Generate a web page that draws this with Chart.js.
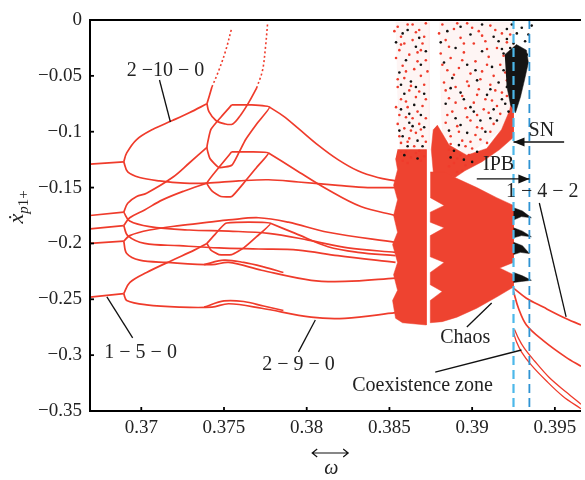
<!DOCTYPE html>
<html>
<head>
<meta charset="utf-8">
<script src="https://cdn.jsdelivr.net/npm/chart.js@4.4.1/dist/chart.umd.min.js"></script>
<style>
  html, body { margin: 0; padding: 0; background: #fff; }
  #chart { display: block; }
</style>
</head>
<body>
<canvas id="chart" width="585" height="480"></canvas>
<script>
// --- axes ---
const xTicks = [0.37, 0.375, 0.38, 0.385, 0.39, 0.395];
const yTicks = [0, -0.05, -0.1, -0.15, -0.2, -0.25, -0.3, -0.35];
const xRange = [0.3669, 0.39658];
const yRange = [-0.35, 0];

// SN / IPB boundaries (dashed blue)
const snOmega = 0.3925;
const ipbOmega = 0.39346;

// period 1-5-0 (before the first doubling)
const branches150 = [
  [[0.3669, -0.129], [0.36894, -0.127]],
  [[0.3669, -0.175], [0.36894, -0.172]],
  [[0.3669, -0.187], [0.36894, -0.184]],
  [[0.3669, -0.200], [0.36894, -0.198]],
  [[0.3669, -0.248], [0.36894, -0.245]]
];

// period 2-10-0 / 2-9-0 branches
const branches2100 = [
  [[0.36894, -0.127], [0.36912, -0.119], [0.36972, -0.107], [0.37068, -0.098], [0.37188, -0.090], [0.3729, -0.083], [0.37397, -0.075]],
  [[0.36894, -0.127], [0.36918, -0.136], [0.3699, -0.141], [0.3711, -0.144], [0.3726, -0.146], [0.37397, -0.146], [0.37589, -0.144], [0.37769, -0.143], [0.37949, -0.145], [0.38189, -0.148], [0.38369, -0.150], [0.38537, -0.150]],
  [[0.37397, -0.075], [0.37427, -0.060]],
  [[0.37397, -0.075], [0.37409, -0.082], [0.37451, -0.090], [0.37505, -0.093], [0.37553, -0.093], [0.37601, -0.085], [0.37649, -0.074], [0.37697, -0.061]],
  [[0.37775, -0.078], [0.37859, -0.086], [0.37949, -0.097], [0.38069, -0.112], [0.38189, -0.125], [0.38309, -0.135], [0.38429, -0.141], [0.38537, -0.144]],
  [[0.36894, -0.172], [0.36918, -0.164], [0.36972, -0.158], [0.37032, -0.155], [0.37188, -0.141], [0.3729, -0.128], [0.37397, -0.114]],
  [[0.36894, -0.172], [0.3693, -0.180], [0.3705, -0.185], [0.3729, -0.188], [0.37529, -0.189], [0.37769, -0.191], [0.38009, -0.197], [0.38249, -0.204], [0.38537, -0.208]],
  [[0.36894, -0.184], [0.3693, -0.177], [0.3702, -0.170], [0.37128, -0.161], [0.3726, -0.153], [0.37397, -0.146]],
  [[0.37769, -0.119], [0.37931, -0.134], [0.38129, -0.152], [0.38327, -0.167], [0.38537, -0.175]],
  [[0.36894, -0.184], [0.36918, -0.193], [0.3702, -0.200], [0.3723, -0.202], [0.37469, -0.204], [0.37709, -0.205], [0.37949, -0.206], [0.38189, -0.211], [0.38537, -0.217]],
  [[0.36894, -0.198], [0.3693, -0.193], [0.3705, -0.188], [0.3723, -0.184], [0.37409, -0.181], [0.37529, -0.179], [0.37709, -0.177], [0.37889, -0.181], [0.38129, -0.190], [0.38537, -0.199]],
  [[0.36894, -0.198], [0.36912, -0.209], [0.3699, -0.215], [0.37152, -0.217], [0.37427, -0.219], [0.37529, -0.217], [0.37727, -0.224], [0.38027, -0.233], [0.38231, -0.234], [0.38537, -0.231]],
  [[0.36894, -0.245], [0.3693, -0.235], [0.37032, -0.226], [0.37188, -0.215], [0.3732, -0.206], [0.37397, -0.200]],
  [[0.37781, -0.182], [0.37931, -0.191], [0.38129, -0.203], [0.38309, -0.208], [0.38537, -0.211]],
  [[0.36894, -0.245], [0.36912, -0.251], [0.37032, -0.255], [0.3723, -0.257], [0.37427, -0.257], [0.37529, -0.254], [0.37727, -0.258], [0.38027, -0.266], [0.38231, -0.267], [0.38537, -0.262]],
  [[0.3738, -0.219], [0.375, -0.215], [0.37619, -0.217], [0.37739, -0.221], [0.37859, -0.226]],
  [[0.3738, -0.257], [0.375, -0.2515], [0.37619, -0.252], [0.37739, -0.256], [0.37859, -0.260]]
];

// closed loops of the 2-10-0 orbit
const loops2100 = [
  [[0.37547, -0.076], [0.37661, -0.076], [0.37775, -0.078], [0.37703, -0.092], [0.37631, -0.107], [0.37589, -0.119], [0.37547, -0.130], [0.37469, -0.132], [0.37415, -0.124], [0.37397, -0.114], [0.37421, -0.098], [0.37481, -0.087], [0.37547, -0.076]],
  [[0.37547, -0.118], [0.37661, -0.118], [0.37769, -0.119], [0.37697, -0.132], [0.37619, -0.146], [0.37547, -0.158], [0.37481, -0.158], [0.37427, -0.153], [0.37397, -0.146], [0.37469, -0.132], [0.37547, -0.118]],
  [[0.37397, -0.200], [0.37451, -0.191], [0.37511, -0.182], [0.37649, -0.181], [0.37781, -0.182], [0.37697, -0.194], [0.37619, -0.204], [0.37547, -0.210], [0.37469, -0.210], [0.37421, -0.206], [0.37397, -0.200]]
];

// sparse branches leaving through the top
const escapeArms = [
  [[0.37427, -0.060], [0.37469, -0.045], [0.37511, -0.027], [0.37547, -0.007]],
  [[0.37697, -0.061], [0.37733, -0.045], [0.37751, -0.024], [0.37763, -0.004]]
];

// period 1-4-2 and the coexisting orbit after the boundary crisis
const branches142 = [
  [[0.3925, -0.240], [0.39328, -0.249], [0.3943, -0.257], [0.3955, -0.266], [0.39658, -0.273]],
  [[0.3925, -0.243], [0.3928, -0.258], [0.39328, -0.273], [0.3943, -0.287], [0.39568, -0.302], [0.39658, -0.310]]
];
const coexistBranches = [
  [[0.3925, -0.280], [0.39268, -0.288], [0.39298, -0.297], [0.39358, -0.309], [0.39448, -0.323], [0.3955, -0.337], [0.39658, -0.348]],
  [[0.39256, -0.277], [0.3928, -0.285], [0.39316, -0.294], [0.39376, -0.305], [0.39466, -0.320], [0.39568, -0.333], [0.39658, -0.344]]
];

// dense chaotic bands (outlines)
const chaosBands = [
  [[0.38549, -0.116], [0.38723, -0.116], [0.38723, -0.273], [0.38579, -0.271], [0.38537, -0.267], [0.38519, -0.251], [0.38549, -0.242], [0.38525, -0.228], [0.38549, -0.217], [0.38519, -0.201], [0.38549, -0.190], [0.38525, -0.175], [0.38549, -0.161], [0.38525, -0.148], [0.38549, -0.134], [0.38537, -0.124]],
  [[0.38747, -0.136], [0.38831, -0.136], [0.38896, -0.141], [0.39028, -0.150], [0.39148, -0.159], [0.3925, -0.166], [0.3925, -0.217], [0.39166, -0.222], [0.3925, -0.228], [0.3925, -0.239], [0.39148, -0.248], [0.39028, -0.258], [0.38908, -0.266], [0.38819, -0.270], [0.38747, -0.271], [0.38747, -0.251], [0.38819, -0.243], [0.38747, -0.237], [0.38747, -0.226], [0.38831, -0.217], [0.38747, -0.212], [0.38747, -0.193], [0.38831, -0.186], [0.38747, -0.181], [0.38747, -0.172], [0.38831, -0.166], [0.38747, -0.159]],
  [[0.38789, -0.094], [0.38861, -0.112], [0.38968, -0.121], [0.39088, -0.115], [0.39178, -0.098], [0.39226, -0.081], [0.3925, -0.064], [0.3925, -0.105], [0.39166, -0.116], [0.39058, -0.127], [0.38956, -0.135], [0.38896, -0.141], [0.38831, -0.138], [0.38765, -0.136], [0.38753, -0.116], [0.38765, -0.098]]
];
const scatterZones = [
  [[0.38537, -0.002], [0.38741, -0.002], [0.38741, -0.116], [0.38561, -0.116], [0.38549, -0.063]],
  [[0.38801, -0.002], [0.3925, -0.002], [0.3925, -0.067], [0.39178, -0.098], [0.38968, -0.121], [0.38819, -0.103], [0.38807, -0.045]]
];
const blackZone = [[0.39197, -0.031], [0.39268, -0.022], [0.39328, -0.027], [0.3934, -0.038], [0.39316, -0.054], [0.39292, -0.069], [0.39262, -0.083], [0.39232, -0.076], [0.39208, -0.058]];
const blackTips = [
  [[0.3925, -0.168], [0.39304, -0.171], [0.39358, -0.177], [0.39298, -0.176], [0.3925, -0.179]],
  [[0.3925, -0.186], [0.39304, -0.189], [0.39358, -0.194], [0.39298, -0.193], [0.3925, -0.195]],
  [[0.3925, -0.199], [0.39304, -0.202], [0.39346, -0.209], [0.39292, -0.208], [0.3925, -0.210]],
  [[0.3925, -0.226], [0.39304, -0.229], [0.39358, -0.233], [0.39298, -0.234], [0.3925, -0.235]]
];

// iterates
const redIterates = [
  [0.3855, -0.006], [0.3861, -0.004], [0.3868, -0.009], [0.3872, -0.003], [0.3857, -0.015], [0.3864, -0.018], [0.3870, -0.021], [0.3856, -0.027], [0.3862, -0.031], [0.3867, -0.029], [0.3872, -0.036], [0.3858, -0.041], [0.3865, -0.044], [0.3859, -0.052], [0.3869, -0.050], [0.3855, -0.060], [0.3862, -0.063], [0.3871, -0.058], [0.3857, -0.071], [0.3866, -0.069], [0.3861, -0.078], [0.3870, -0.077], [0.3856, -0.085], [0.3864, -0.088], [0.3868, -0.093], [0.3859, -0.097], [0.3866, -0.101], [0.3862, -0.106], [0.3870, -0.104], [0.3857, -0.110], [0.3865, -0.113], [0.3860, -0.118], [0.3868, -0.117], [0.3863, -0.123], [0.3858, -0.126], [0.3871, -0.122],
  [0.3853, -0.010], [0.3859, -0.021], [0.3866, -0.011], [0.3871, -0.015], [0.3854, -0.034], [0.3860, -0.046], [0.3867, -0.037], [0.3873, -0.046], [0.3855, -0.053], [0.3863, -0.059], [0.3868, -0.064], [0.3872, -0.071], [0.3860, -0.073], [0.3854, -0.078], [0.3867, -0.082], [0.3872, -0.088], [0.3860, -0.087], [0.3855, -0.093], [0.3863, -0.099], [0.3869, -0.098], [0.3856, -0.104], [0.3872, -0.109], [0.3861, -0.109], [0.3866, -0.119], [0.3857, -0.118], [0.3869, -0.126], [0.3861, -0.128], [0.3864, -0.004], [0.3869, -0.027], [0.3857, -0.022],
  [0.3882, -0.004], [0.3889, -0.008], [0.3897, -0.003], [0.3904, -0.010], [0.3911, -0.005], [0.3918, -0.012], [0.3884, -0.018], [0.3893, -0.016], [0.3901, -0.021], [0.3908, -0.019], [0.3915, -0.025], [0.3921, -0.020],
  [0.3881, -0.030], [0.3887, -0.034], [0.3895, -0.029], [0.3902, -0.037], [0.3910, -0.033], [0.3917, -0.040], [0.3885, -0.045], [0.3892, -0.043], [0.3899, -0.048], [0.3906, -0.046], [0.3913, -0.050], [0.3920, -0.047],
  [0.3883, -0.056], [0.3890, -0.060], [0.3897, -0.055], [0.3904, -0.062], [0.3911, -0.058], [0.3918, -0.065], [0.3886, -0.070], [0.3894, -0.068], [0.3901, -0.074], [0.3908, -0.071], [0.3915, -0.077], [0.3888, -0.082], [0.3896, -0.079],
  [0.3903, -0.085], [0.3910, -0.083], [0.3884, -0.092], [0.3891, -0.095], [0.3899, -0.090], [0.3906, -0.097], [0.3913, -0.093], [0.3887, -0.104], [0.3894, -0.108], [0.3902, -0.103], [0.3909, -0.110], [0.3886, -0.116], [0.3893, -0.121], [0.3900, -0.115], [0.3889, -0.128], [0.3896, -0.130], [0.3891, -0.136],
  [0.3880, -0.012], [0.3886, -0.024], [0.3891, -0.003], [0.3895, -0.021], [0.3900, -0.007], [0.3906, -0.014], [0.3909, -0.026], [0.3914, -0.009], [0.3919, -0.032], [0.3923, -0.013], [0.3882, -0.040], [0.3889, -0.049], [0.3894, -0.036], [0.3898, -0.059], [0.3905, -0.053], [0.3909, -0.040], [0.3914, -0.063], [0.3921, -0.054], [0.3884, -0.063], [0.3890, -0.074], [0.3897, -0.087], [0.3903, -0.067], [0.3907, -0.080], [0.3912, -0.072], [0.3917, -0.084], [0.3921, -0.068], [0.3885, -0.085], [0.3892, -0.100], [0.3896, -0.113], [0.3903, -0.096], [0.3905, -0.107], [0.3911, -0.100], [0.3887, -0.111], [0.3898, -0.121], [0.3891, -0.124], [0.3886, -0.131], [0.3894, -0.135], [0.3899, -0.109]
];
const blackIterates = [
  [0.3858, -0.012], [0.3866, -0.024], [0.3860, -0.036], [0.3869, -0.040], [0.3856, -0.047], [0.3863, -0.055], [0.3871, -0.066], [0.3859, -0.066], [0.3865, -0.076], [0.3857, -0.080], [0.3869, -0.085], [0.3862, -0.092], [0.3856, -0.099], [0.3867, -0.108], [0.3861, -0.113], [0.3870, -0.113], [0.3864, -0.095], [0.3858, -0.104],
  [0.3854, -0.020], [0.3861, -0.009], [0.3868, -0.016], [0.3872, -0.028], [0.3857, -0.058], [0.3866, -0.060], [0.3862, -0.084], [0.3871, -0.096], [0.3859, -0.121], [0.3867, -0.124],
  [0.3885, -0.010], [0.3899, -0.013], [0.3913, -0.015], [0.3890, -0.025], [0.3906, -0.028], [0.3919, -0.030], [0.3883, -0.038], [0.3897, -0.040], [0.3912, -0.042], [0.3888, -0.052], [0.3903, -0.054], [0.3916, -0.056], [0.3893, -0.065], [0.3909, -0.067], [0.3884, -0.075], [0.3899, -0.078], [0.3913, -0.080], [0.3890, -0.088], [0.3905, -0.090], [0.3886, -0.099], [0.3897, -0.101], [0.3908, -0.100], [0.3892, -0.112], [0.3903, -0.118], [0.3887, -0.123], [0.3895, -0.125], [0.3921, -0.008], [0.3922, -0.035], [0.3921, -0.060], [0.3920, -0.075],
  [0.3881, -0.020], [0.3893, -0.006], [0.3906, -0.004], [0.3916, -0.019], [0.3887, -0.061], [0.3902, -0.045], [0.3895, -0.071], [0.3911, -0.062], [0.3918, -0.071], [0.3901, -0.082], [0.3893, -0.094], [0.3911, -0.088], [0.3889, -0.117], [0.3900, -0.127], [0.3915, -0.090], [0.3919, -0.045], [0.3923, -0.025], [0.3923, -0.050], [0.3922, -0.082], [0.3933, -0.031],
  [0.3924, -0.004], [0.3930, -0.007], [0.3934, -0.013], [0.3927, -0.012], [0.3921, -0.017], [0.3932, -0.019], [0.3925, -0.021], [0.3936, -0.005], [0.3918, -0.026]
];

const RED = '#ef3b2b';
const FILL_RED = '#ee4330';
const SERIF = "'Liberation Serif', 'DejaVu Serif', serif";

const pts = arr => arr.map(([x, y]) => ({ x, y }));

function curve(arr, extra) {
  return Object.assign({
    data: pts(arr), showLine: true, borderColor: RED, borderWidth: 1.7,
    pointRadius: 0, tension: 0.35, fill: false, order: 5
  }, extra || {});
}
function area(arr, color, order) {
  return {
    data: pts(arr), showLine: true, borderColor: color, borderWidth: 0.5,
    backgroundColor: color, fill: 'shape', pointRadius: 0, tension: 0, order: order
  };
}
function dots(arr, color, order) {
  return {
    data: pts(arr), showLine: false, pointRadius: 1.3, pointBorderWidth: 0,
    pointBackgroundColor: color, backgroundColor: color, order: order
  };
}

const datasets = [];
datasets.push({ data: pts([[snOmega, yRange[1]], [snOmega, yRange[0]]]), showLine: true, borderColor: '#4cb8ea', borderWidth: 2.2, borderDash: [9, 5], pointRadius: 0, order: 0 });
datasets.push({ data: pts([[ipbOmega, yRange[1]], [ipbOmega, yRange[0]]]), showLine: true, borderColor: '#2f93d3', borderWidth: 1.8, borderDash: [9, 5], pointRadius: 0, order: 0 });
blackTips.forEach(t => datasets.push(area(t, '#111', 1)));
datasets.push(area(blackZone, '#151515', 1));
datasets.push(dots(blackIterates, '#111', 2));
datasets.push(dots(redIterates, RED, 3));
chaosBands.forEach(b => datasets.push(area(b, FILL_RED, 4)));
scatterZones.forEach(z => datasets.push(area(z, 'rgba(236,90,70,0.06)', 7)));
branches150.forEach(b => datasets.push(curve(b, { tension: 0 })));
branches2100.forEach(b => datasets.push(curve(b)));
loops2100.forEach(b => datasets.push(curve(b, { tension: 0.15 })));
escapeArms.forEach(b => datasets.push(curve(b, { borderDash: [2, 2.5], borderWidth: 1.6 })));
branches142.forEach(b => datasets.push(curve(b)));
coexistBranches.forEach(b => datasets.push(curve(b, { borderWidth: 1.3 })));

// annotations (data coordinates)
const notes = [
  { text: '2 \u221210 \u2212 0', at: [0.37146, -0.0456], line: [[0.3711, -0.0537], [0.37176, -0.0913]] },
  { text: '1 \u2212 5 \u2212 0', at: [0.36996, -0.298], line: [[0.36948, -0.2846], [0.36792, -0.2479]] },
  { text: '2 \u2212 9 \u2212 0', at: [0.3795, -0.3088], line: [[0.3795, -0.2971], [0.38052, -0.2685]] },
  { text: 'Chaos', at: [0.38958, -0.2846], line: [[0.38968, -0.2748], [0.39118, -0.2533]] },
  { text: 'Coexistence zone', at: [0.3870, -0.3276], line: [[0.38777, -0.3151], [0.39298, -0.2954]] },
  { text: '1 \u2212 4 \u2212 2', at: [0.39424, -0.154], line: [[0.39406, -0.1638], [0.39568, -0.2658]] },
  { text: 'SN', at: [0.39418, -0.0993], arrow: [[0.39556, -0.1092], [0.3925, -0.1092]] },
  { text: 'IPB', at: [0.3916, -0.1298], arrow: [[0.39028, -0.1423], [0.39346, -0.1423]] }
];

function fmt(v) {
  if (v === 0) return '0';
  return (v < 0 ? '\u2212' : '') + String(Math.abs(v));
}

const framePlugin = {
  id: 'frame',
  afterDraw(chart) {
    const { ctx, chartArea: a, scales: { x, y } } = chart;
    ctx.save();
    ctx.strokeStyle = '#000';
    ctx.lineWidth = 2;
    ctx.beginPath();
    ctx.moveTo(a.right, a.top); ctx.lineTo(a.left, a.top);
    ctx.lineTo(a.left, a.bottom); ctx.lineTo(a.right, a.bottom);
    ctx.stroke();
    ctx.lineWidth = 1.8;
    xTicks.forEach(v => {
      const px = x.getPixelForValue(v);
      ctx.beginPath(); ctx.moveTo(px, a.bottom); ctx.lineTo(px, a.bottom - 4); ctx.stroke();
    });
    yTicks.forEach(v => {
      const py = y.getPixelForValue(v);
      ctx.beginPath(); ctx.moveTo(a.left, py); ctx.lineTo(a.left + 4, py); ctx.stroke();
    });

    // notes
    ctx.fillStyle = '#222';
    ctx.strokeStyle = '#111';
    ctx.lineWidth = 1.3;
    ctx.font = '20px ' + SERIF;
    ctx.textAlign = 'center';
    ctx.textBaseline = 'middle';
    notes.forEach(n => {
      ctx.fillText(n.text, x.getPixelForValue(n.at[0]), y.getPixelForValue(n.at[1]));
      const seg = n.line || n.arrow;
      const x0 = x.getPixelForValue(seg[0][0]), y0 = y.getPixelForValue(seg[0][1]);
      const x1 = x.getPixelForValue(seg[1][0]), y1 = y.getPixelForValue(seg[1][1]);
      ctx.beginPath(); ctx.moveTo(x0, y0); ctx.lineTo(x1, y1); ctx.stroke();
      if (n.arrow) {
        const dir = Math.sign(x1 - x0);
        ctx.beginPath();
        ctx.moveTo(x1, y1);
        ctx.lineTo(x1 - dir * 11, y1 - 4.5);
        ctx.lineTo(x1 - dir * 11, y1 + 4.5);
        ctx.closePath();
        ctx.fillStyle = '#111';
        ctx.fill();
        ctx.fillStyle = '#222';
      }
    });

    // y title: x-dot with subscript p1+
    ctx.save();
    ctx.translate(23, 207);
    ctx.rotate(-Math.PI / 2);
    ctx.textAlign = 'left';
    ctx.textBaseline = 'alphabetic';
    const parts = [
      { t: '\u1E8B', f: 'italic 22px ' + SERIF, dy: 0 },
      { t: 'p', f: 'italic 15px ' + SERIF, dy: 5 },
      { t: '1+', f: '15px ' + SERIF, dy: 5 }
    ];
    let total = 0;
    parts.forEach(p => { ctx.font = p.f; p.w = ctx.measureText(p.t).width; total += p.w; });
    let cx = -total / 2;
    parts.forEach(p => { ctx.font = p.f; ctx.fillText(p.t, cx, p.dy); cx += p.w; });
    ctx.restore();

    // x title: double arrow and omega
    const mx = x.getPixelForValue(0.38142);
    const ay = 453;
    ctx.lineWidth = 1.2;
    ctx.beginPath();
    ctx.moveTo(mx - 18, ay); ctx.lineTo(mx + 18, ay);
    ctx.moveTo(mx - 13, ay - 4); ctx.lineTo(mx - 18, ay); ctx.lineTo(mx - 13, ay + 4);
    ctx.moveTo(mx + 13, ay - 4); ctx.lineTo(mx + 18, ay); ctx.lineTo(mx + 13, ay + 4);
    ctx.stroke();
    ctx.font = 'italic 20px ' + SERIF;
    ctx.textAlign = 'center';
    ctx.textBaseline = 'middle';
    ctx.fillText('\u03C9', mx + 1, 469);
    ctx.restore();
  }
};

const tickFont = { family: SERIF, size: 19 };

new Chart(document.getElementById('chart').getContext('2d'), {
  type: 'scatter',
  data: { datasets },
  options: {
    responsive: false,
    animation: false,
    devicePixelRatio: 1,
    layout: { padding: { top: 20, right: 0, left: 0, bottom: 0 } },
    plugins: { legend: { display: false }, tooltip: { enabled: false } },
    scales: {
      x: {
        type: 'linear', min: xRange[0], max: xRange[1],
        afterFit(s) { s.height = 69; },
        afterBuildTicks(s) { s.ticks = xTicks.map(v => ({ value: v })); },
        grid: { display: false, drawTicks: false },
        border: { display: false },
        ticks: { font: tickFont, color: '#222', padding: 6, maxRotation: 0, autoSkip: false, callback: v => fmt(v) }
      },
      y: {
        type: 'linear', min: yRange[0], max: yRange[1],
        afterFit(s) { s.width = 90; },
        afterBuildTicks(s) { s.ticks = yTicks.map(v => ({ value: v })); },
        grid: { display: false, drawTicks: false },
        border: { display: false },
        ticks: { font: tickFont, color: '#222', padding: 8, autoSkip: false, callback: v => fmt(v) }
      }
    }
  },
  plugins: [framePlugin]
});
</script>
</body>
</html>
